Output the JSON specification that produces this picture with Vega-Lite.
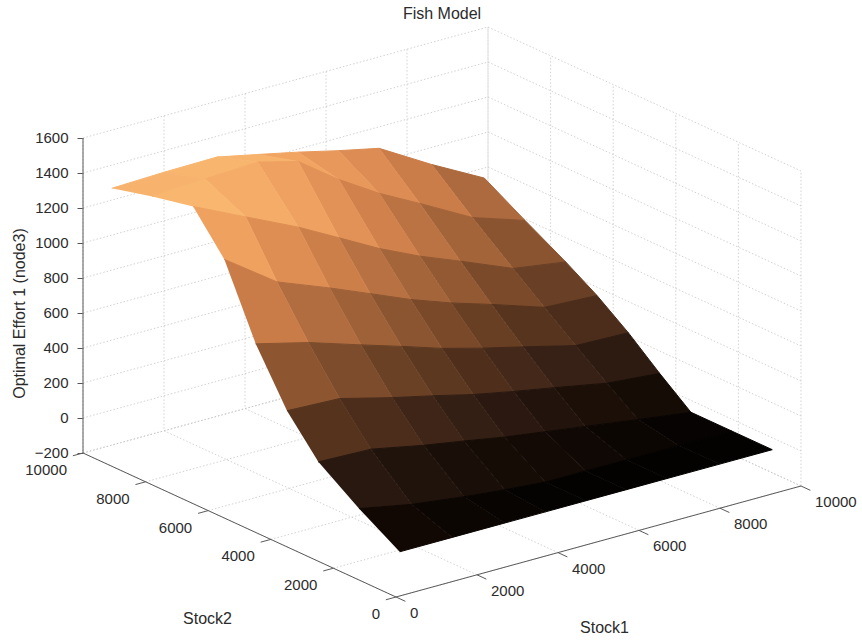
{
  "$schema": "https://vega.github.io/schema/vega-lite/v6.json",
  "width": 718,
  "height": 616,
  "autosize": "none",
  "padding": {"left": 83, "top": 5, "right": 61, "bottom": 19},
  "background": "white",
  "config": {
    "view": {"stroke": null},
    "font": "Liberation Sans",
    "text": {"font": "Liberation Sans", "fontSize": 15, "color": "#2b2b2b"},
    "title": {"font": "Liberation Sans", "fontSize": 16, "fontWeight": "normal", "color": "#2b2b2b"}
  },
  "title": {"text": "Fish Model", "offset": -17},
  "datasets": {
    "surface": [
      {"stock1": 9600, "stock2": 9600, "effort": 795}, {"stock1": 8300, "stock2": 9600, "effort": 955}, {"stock1": 7000, "stock2": 9600, "effort": 1130},
      {"stock1": 6000, "stock2": 9600, "effort": 1180}, {"stock1": 5000, "stock2": 9600, "effort": 1235}, {"stock1": 4000, "stock2": 9600, "effort": 1285},
      {"stock1": 3000, "stock2": 9600, "effort": 1334}, {"stock1": 1700, "stock2": 9600, "effort": 1330}, {"stock1": 400, "stock2": 9600, "effort": 1320},
      {"stock1": 9600, "stock2": 8300, "effort": 660}, {"stock1": 8300, "stock2": 8300, "effort": 759}, {"stock1": 7000, "stock2": 8300, "effort": 922},
      {"stock1": 6000, "stock2": 8300, "effort": 1043}, {"stock1": 5000, "stock2": 8300, "effort": 1186}, {"stock1": 4000, "stock2": 8300, "effort": 1352},
      {"stock1": 3000, "stock2": 8300, "effort": 1412}, {"stock1": 1700, "stock2": 8300, "effort": 1398}, {"stock1": 400, "stock2": 8300, "effort": 1380},
      {"stock1": 9600, "stock2": 7000, "effort": 530}, {"stock1": 8300, "stock2": 7000, "effort": 575}, {"stock1": 7000, "stock2": 7000, "effort": 699},
      {"stock1": 6000, "stock2": 7000, "effort": 791}, {"stock1": 5000, "stock2": 7000, "effort": 898}, {"stock1": 4000, "stock2": 7000, "effort": 1023},
      {"stock1": 3000, "stock2": 7000, "effort": 1147}, {"stock1": 1700, "stock2": 7000, "effort": 1288}, {"stock1": 400, "stock2": 7000, "effort": 1430},
      {"stock1": 9600, "stock2": 6000, "effort": 420}, {"stock1": 8300, "stock2": 6000, "effort": 435}, {"stock1": 7000, "stock2": 6000, "effort": 534},
      {"stock1": 6000, "stock2": 6000, "effort": 606}, {"stock1": 5000, "stock2": 6000, "effort": 689}, {"stock1": 4000, "stock2": 6000, "effort": 786},
      {"stock1": 3000, "stock2": 6000, "effort": 882}, {"stock1": 1700, "stock2": 6000, "effort": 999}, {"stock1": 400, "stock2": 6000, "effort": 1210},
      {"stock1": 9600, "stock2": 5000, "effort": 290}, {"stock1": 8300, "stock2": 5000, "effort": 299}, {"stock1": 7000, "stock2": 5000, "effort": 374},
      {"stock1": 6000, "stock2": 5000, "effort": 430}, {"stock1": 5000, "stock2": 5000, "effort": 492}, {"stock1": 4000, "stock2": 5000, "effort": 567},
      {"stock1": 3000, "stock2": 5000, "effort": 639}, {"stock1": 1700, "stock2": 5000, "effort": 735}, {"stock1": 400, "stock2": 5000, "effort": 810},
      {"stock1": 9600, "stock2": 4000, "effort": 140}, {"stock1": 8300, "stock2": 4000, "effort": 166}, {"stock1": 7000, "stock2": 4000, "effort": 223},
      {"stock1": 6000, "stock2": 4000, "effort": 265}, {"stock1": 5000, "stock2": 4000, "effort": 311}, {"stock1": 4000, "stock2": 4000, "effort": 367},
      {"stock1": 3000, "stock2": 4000, "effort": 420}, {"stock1": 1700, "stock2": 4000, "effort": 497}, {"stock1": 400, "stock2": 4000, "effort": 510},
      {"stock1": 9600, "stock2": 3000, "effort": 0}, {"stock1": 8300, "stock2": 3000, "effort": 41}, {"stock1": 7000, "stock2": 3000, "effort": 84},
      {"stock1": 6000, "stock2": 3000, "effort": 117}, {"stock1": 5000, "stock2": 3000, "effort": 150}, {"stock1": 4000, "stock2": 3000, "effort": 191},
      {"stock1": 3000, "stock2": 3000, "effort": 230}, {"stock1": 1700, "stock2": 3000, "effort": 290}, {"stock1": 400, "stock2": 3000, "effort": 300},
      {"stock1": 9600, "stock2": 1700, "effort": 0}, {"stock1": 8300, "stock2": 1700, "effort": 0}, {"stock1": 7000, "stock2": 1700, "effort": 0},
      {"stock1": 6000, "stock2": 1700, "effort": 0}, {"stock1": 5000, "stock2": 1700, "effort": 0}, {"stock1": 4000, "stock2": 1700, "effort": 19},
      {"stock1": 3000, "stock2": 1700, "effort": 43}, {"stock1": 1700, "stock2": 1700, "effort": 82}, {"stock1": 400, "stock2": 1700, "effort": 140},
      {"stock1": 9600, "stock2": 400, "effort": 0}, {"stock1": 8300, "stock2": 400, "effort": 0}, {"stock1": 7000, "stock2": 400, "effort": 0},
      {"stock1": 6000, "stock2": 400, "effort": 0}, {"stock1": 5000, "stock2": 400, "effort": 0}, {"stock1": 4000, "stock2": 400, "effort": 0},
      {"stock1": 3000, "stock2": 400, "effort": 0}, {"stock1": 1700, "stock2": 400, "effort": 0}, {"stock1": 400, "stock2": 400, "effort": 0}
    ],
    "ticks": [
      {"axis": "z", "value": -200}, {"axis": "z", "value": 0}, {"axis": "z", "value": 200}, {"axis": "z", "value": 400},
      {"axis": "z", "value": 600}, {"axis": "z", "value": 800}, {"axis": "z", "value": 1000}, {"axis": "z", "value": 1200},
      {"axis": "z", "value": 1400}, {"axis": "z", "value": 1600},
      {"axis": "s1", "value": 0}, {"axis": "s1", "value": 2000}, {"axis": "s1", "value": 4000},
      {"axis": "s1", "value": 6000}, {"axis": "s1", "value": 8000}, {"axis": "s1", "value": 10000},
      {"axis": "s2", "value": 0}, {"axis": "s2", "value": 2000}, {"axis": "s2", "value": 4000},
      {"axis": "s2", "value": 6000}, {"axis": "s2", "value": 8000}, {"axis": "s2", "value": 10000}
    ]
  },
  "encoding": {
    "x": {"field": "u", "type": "quantitative", "scale": {"domain": [-7728, 10000], "nice": false, "zero": false}, "axis": null},
    "y": {
      "field": "v", "type": "quantitative",
      "scale": {"domain": [-1160, 2360], "nice": false, "zero": false},
      "axis": {
        "title": "Optimal Effort 1 (node3)",
        "values": [-200, 0, 200, 400, 600, 800, 1000, 1200, 1400, 1600],
        "format": "d",
        "domain": false, "grid": false,
        "tickSize": 6, "tickColor": "#555555",
        "labelPadding": 9, "labelFont": "Liberation Sans", "labelFontSize": 15, "labelColor": "#2b2b2b", "labelOffset": -1,
        "titleFont": "Liberation Sans", "titleFontSize": 16, "titleFontWeight": "normal", "titleColor": "#2b2b2b", "titlePadding": 7
      }
    }
  },
  "layer": [
    {
      "data": {"name": "ticks"},
      "transform": [
        {"calculate": "[0, 1, 2]", "as": "k"},
        {"flatten": ["k"]},
        {"calculate": "datum.axis == 's1' ? datum.value : (datum.k == 0 ? 0 : 10000)", "as": "stock1"},
        {"calculate": "datum.axis == 's2' ? datum.value : datum.axis == 's1' ? (datum.k == 0 ? 0 : 10000) : (datum.k == 2 ? 0 : 10000)", "as": "stock2"},
        {"calculate": "datum.axis == 'z' ? datum.value : (datum.k == 2 ? 1600 : -200)", "as": "effort"},
        {"calculate": "datum.axis + datum.value", "as": "gridline"},
        {"calculate": "datum.stock1 - 0.7728 * datum.stock2", "as": "u"},
        {"calculate": "datum.effort + 0.06343 * datum.stock1 + 0.08229 * (datum.stock2 - 10000)", "as": "v"}
      ],
      "mark": {"type": "line", "stroke": "#c6c6c6", "strokeWidth": 0.8, "strokeDash": [1.5, 2]},
      "encoding": {"detail": {"field": "gridline"}, "order": {"field": "k"}}
    },
    {
      "data": {"values": [
        {"stock1": 0, "stock2": 10000, "effort": 1600, "k": 0},
        {"stock1": 0, "stock2": 10000, "effort": -200, "k": 1},
        {"stock1": 0, "stock2": 0, "effort": -200, "k": 2},
        {"stock1": 10000, "stock2": 0, "effort": -200, "k": 3}
      ]},
      "transform": [
        {"calculate": "datum.stock1 - 0.7728 * datum.stock2", "as": "u"},
        {"calculate": "datum.effort + 0.06343 * datum.stock1 + 0.08229 * (datum.stock2 - 10000)", "as": "v"}
      ],
      "mark": {"type": "line", "stroke": "#5a5a5a", "strokeWidth": 1},
      "encoding": {"order": {"field": "k"}}
    },
    {
      "data": {"name": "ticks"},
      "transform": [
        {"filter": "datum.axis != 'z'"},
        {"calculate": "datum.axis == 's1' ? datum.value : 0", "as": "stock1"},
        {"calculate": "datum.axis == 's2' ? datum.value : 0", "as": "stock2"},
        {"calculate": "datum.axis == 's1' ? datum.value : -250", "as": "tip1"},
        {"calculate": "datum.axis == 's2' ? datum.value : -300", "as": "tip2"},
        {"calculate": "datum.stock1 - 0.7728 * datum.stock2", "as": "u"},
        {"calculate": "-200 + 0.06343 * datum.stock1 + 0.08229 * (datum.stock2 - 10000)", "as": "v"},
        {"calculate": "datum.tip1 - 0.7728 * datum.tip2", "as": "u2"},
        {"calculate": "-200 + 0.06343 * datum.tip1 + 0.08229 * (datum.tip2 - 10000)", "as": "v2"}
      ],
      "mark": {"type": "rule", "stroke": "#5a5a5a", "strokeWidth": 1},
      "encoding": {"x2": {"field": "u2"}, "y2": {"field": "v2"}}
    },
    {
      "data": {"name": "surface"},
      "transform": [
        {"window": [{"op": "dense_rank", "as": "i"}], "sort": [{"field": "stock1"}]},
        {"window": [{"op": "dense_rank", "as": "j"}], "sort": [{"field": "stock2"}]},
        {"joinaggregate": [{"op": "max", "field": "i", "as": "ni"}, {"op": "max", "field": "j", "as": "nj"}]},
        {"calculate": "[0, 1, 2, 3]", "as": "c"},
        {"flatten": ["c"]},
        {"calculate": "datum.i - (datum.c == 1 || datum.c == 2 ? 1 : 0)", "as": "qi"},
        {"calculate": "datum.j - (datum.c >= 2 ? 1 : 0)", "as": "qj"},
        {"filter": "datum.qi >= 1 && datum.qj >= 1 && datum.qi < datum.ni && datum.qj < datum.nj"},
        {"calculate": "datum.qi + '-' + datum.qj", "as": "quad"},
        {"joinaggregate": [{"op": "mean", "field": "effort", "as": "level"}], "groupby": ["quad"]},
        {"calculate": "datum.stock1 - 0.7728 * datum.stock2", "as": "u"},
        {"calculate": "datum.effort + 0.06343 * datum.stock1 + 0.08229 * (datum.stock2 - 10000)", "as": "v"}
      ],
      "mark": {"type": "line", "strokeWidth": 1, "strokeJoin": "round"},
      "encoding": {
        "detail": {"field": "quad"},
        "order": {"field": "c"},
        "fill": {
          "field": "level", "type": "quantitative", "legend": null,
          "scale": {"domain": [0, 150, 400, 700, 1000, 1250, 1420], "range": ["#040201", "#1e110a", "#55331d", "#9c5f37", "#d5844d", "#f1a362", "#fbbd74"]}
        },
        "stroke": {
          "field": "level", "type": "quantitative", "legend": null,
          "scale": {"domain": [0, 150, 400, 700, 1000, 1250, 1420], "range": ["#040201", "#1e110a", "#55331d", "#9c5f37", "#d5844d", "#f1a362", "#fbbd74"]}
        }
      }
    },
    {
      "data": {"name": "ticks"},
      "transform": [
        {"filter": "datum.axis == 's2'"},
        {"calculate": "-0.7728 * datum.value", "as": "u"},
        {"calculate": "-200 + 0.08229 * (datum.value - 10000)", "as": "v"}
      ],
      "mark": {"type": "text", "align": "right", "baseline": "middle", "dx": -16, "dy": 17},
      "encoding": {"text": {"field": "value", "type": "quantitative", "format": "d"}}
    },
    {
      "data": {"name": "ticks"},
      "transform": [
        {"filter": "datum.axis == 's1'"},
        {"calculate": "datum.value", "as": "u"},
        {"calculate": "-200 + 0.06343 * datum.value - 822.9", "as": "v"}
      ],
      "mark": {"type": "text", "align": "left", "baseline": "middle", "dx": 14, "dy": 16},
      "encoding": {"text": {"field": "value", "type": "quantitative", "format": "d"}}
    },
    {
      "data": {"values": [{"label": "Stock1", "stock1": 5000, "stock2": 0, "effort": -200}]},
      "transform": [
        {"calculate": "datum.stock1 - 0.7728 * datum.stock2", "as": "u"},
        {"calculate": "datum.effort + 0.06343 * datum.stock1 + 0.08229 * (datum.stock2 - 10000)", "as": "v"}
      ],
      "mark": {"type": "text", "align": "center", "baseline": "middle", "dx": 6, "dy": 86, "fontSize": 16},
      "encoding": {"text": {"field": "label"}}
    },
    {
      "data": {"values": [{"label": "Stock2", "stock1": 0, "stock2": 5000, "effort": -200}]},
      "transform": [
        {"calculate": "datum.stock1 - 0.7728 * datum.stock2", "as": "u"},
        {"calculate": "datum.effort + 0.06343 * datum.stock1 + 0.08229 * (datum.stock2 - 10000)", "as": "v"}
      ],
      "mark": {"type": "text", "align": "center", "baseline": "middle", "dx": -32, "dy": 94, "fontSize": 16},
      "encoding": {"text": {"field": "label"}}
    }
  ]
}
